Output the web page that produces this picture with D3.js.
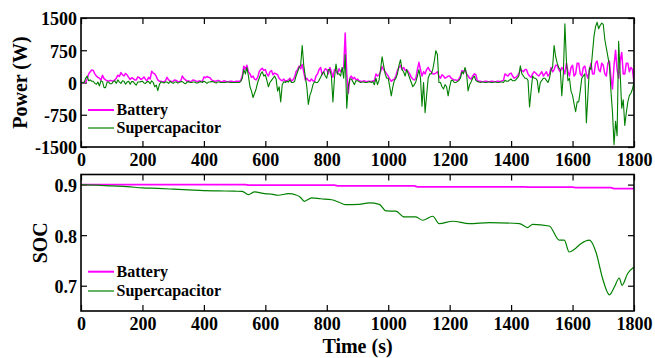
<!DOCTYPE html>
<html>
<head>
<meta charset="utf-8">
<script src="https://cdn.jsdelivr.net/npm/d3@7"></script>
<style>
  html, body { margin: 0; padding: 0; background: #fff; }
  svg { display: block; }
  text { font-family: "Liberation Serif", "Times New Roman", serif; font-weight: bold; fill: #000; }
</style>
</head>
<body>
<svg id="chart" width="655" height="358"></svg>
<script>
// Power split over the drive cycle, sampled every 5 s (W); one row = 100 s
const powerStep = 5;
const batteryPower = [
  0, 0, 0, 10, 80, 200, 250, 290, 280, 200, 150, 120, 100, 60, 170, 90, 60, 40, 30, 50,
  40, 30, 60, 100, 170, 140, 230, 180, 150, 210, 180, 120, 70, 110, 90, 60, 60, 130, 110, 70,
  90, 130, 70, 40, 120, 80, 260, 220, 200, 140, 60, 30, 30, 20, 20, 40, 120, 60, 40, 20,
  30, 60, 50, 20, 20, 40, 150, 90, 60, 30, 40, 20, 30, 60, 50, 30, 20, 40, 30, 20,
  130, 110, 140, 120, 110, 60, 40, 30, 30, 50, 40, 20, 20, 40, 30, 20, 20, 30, 30, 20,
  20, 30, 30, 20, 50, 150, 380, 300, 400, 250, 200, 120, 150, 80, 60, 120, 250, 300, 330, 280,
  300, 200, 150, 250, 280, 180, 220, 200, 180, 100, 60, 40, 80, 30, 40, 60, 100, 30, 60, 120,
  250, 300, 380, 320, 420, 250, 60, 100, 50, 30, 80, 40, 30, 150, 200, 300, 350, 180, 250, 320,
  300, 200, 350, 250, 120, 300, 280, 200, 320, 250, 300, 350, 1150, 200, -250, 100, 150, 80, 120, 60,
  80, 40, 30, 20, 40, 30, 20, 30, 30, 20, 40, 30, 200, 150, 180, 250, 370, 300, 250, 200,
  150, 80, 30, 60, 80, 150, 280, 350, 400, 300, 350, 280, 300, 250, 200, 120, 80, 60, 100, 300,
  470, 300, 150, 250, 200, 300, 350, 280, 250, 200, 200, 220, 250, 150, 100, 180, 150, 100, 120, 150,
  150, 100, 80, 60, 60, 40, 80, 150, 280, 250, 300, 200, 150, 100, 80, 150, 200, 180, 40, 30,
  30, 20, 20, 30, 30, 20, 20, 30, 30, 20, 20, 30, 30, 20, 40, 50, 200, 170, 150, 200,
  220, 150, 100, 120, 150, 200, 300, 280, 250, 300, 300, 200, 150, 120, 200, 250, 220, 180, 150, 200,
  250, 150, 200, 250, 150, 200, 350, 250, 300, 400, 400, 300, 250, 350, 300, 200, 450, 250, 150, 350,
  400, 150, 200, 450, 450, 200, 150, 350, 380, 200, 100, 300, 450, 200, 200, 450, 500, 300, 250, 450,
  400, 200, 150, 450, 500, 100, -150, 400, 750, 300, 100, 500, 700, 200, 200, 450, 450, 250, 350, 300,
  0
];
const supercapPower = [
  0, 0, 0, 100, 150, 40, 60, 30, 30, -20, -40, 10, -80, 40, 20, -120, -120, 10, 10, -30,
  -30, 20, 40, -20, 60, 10, -20, 40, 30, -40, 10, 30, -40, 20, 20, -30, -60, 10, 10, 20,
  30, -10, -20, 20, 20, -30, 40, 0, -100, -60, -190, -50, 20, 0, -10, 10, 10, -20, 30, 0,
  -20, 10, 10, -10, 0, 20, 20, -10, -30, 10, 20, 0, 0, 10, 10, -10, -10, 10, 20, 0,
  30, 10, -20, 10, 10, 20, 20, 0, -10, 10, 10, 0, 0, 0, 0, 10, 10, 0, 0, 0,
  0, 0, 0, 0, 20, 100, 300, 200, 350, 150, -100, -200, -350, -250, -150, 0, 100, 200, 250, 150,
  180, 50, -100, 0, 50, 100, 150, 80, -200, -100, -450, -50, 20, 0, 30, 10, 60, 0, 0, 20,
  150, 250, 350, 400, 860, 400, 150, -100, -510, -300, -200, -50, 20, 0, 0, 50, 120, 200, 250, 150,
  100, 300, 300, 150, -450, 100, 430, 200, 200, 150, 350, 100, 650, -600, -100, 80, 80, 20, -50, 40,
  40, 20, 0, 10, 10, 0, 0, 10, 20, 0, 20, -50, 100, -50, 50, 300, 600, 400, 200, 100,
  100, -100, -310, -100, 50, 100, 200, 400, 530, 300, 250, 150, 300, 200, 100, 0, -100, -50, 20, 150,
  300, 100, -550, 0, -700, -300, 100, 200, 200, 300, 500, 740, 650, 0, 0, -100, -150, -50, -100, -310,
  -100, 50, 50, 0, 0, 20, 50, 100, 250, 200, 350, 200, -195, -50, 20, 100, 150, 50, 20, 10,
  0, 10, 10, 0, 0, 10, 10, 0, 0, 10, 10, 0, 0, 10, 10, 0, 50, 30, 30, 60,
  80, 40, 40, 60, 100, 150, 390, 200, 150, 100, 100, 50, -570, -200, 150, 100, 100, 50, -235, 0,
  50, 100, 100, 50, 0, 100, 300, 350, 860, 600, 450, 350, 300, -310, 200, 1365, 500, 40, 100, -200,
  -300, -500, -680, -450, -450, -200, 100, 150, 200, -935, -300, 350, 300, 700, 1090, 1300, 1400, 1250, 1330, 1380,
  1350, 1000, 800, 600, 400, -200, -700, -1445, -900, -1240, 960, 200, -600, -400, -1000, -700, -450, -300, -250, -150,
  0
];

// State of charge
const socTime = [
  0, 50, 100, 150, 200, 250, 300, 350, 400, 450,
  500, 525, 545, 565, 598, 620, 642, 675, 700, 713,
  727, 751, 780, 816, 840, 860, 905, 938, 971, 993,
  1025, 1052, 1090, 1112, 1145, 1166, 1210, 1264, 1329, 1427,
  1454, 1470, 1524, 1557, 1573, 1589, 1606, 1627, 1655, 1676,
  1698, 1720, 1736, 1752, 1761, 1779, 1800
];
const supercapSoc = [
  0.900, 0.899, 0.8974, 0.896, 0.8935, 0.8925, 0.891, 0.8895, 0.888, 0.8875,
  0.887, 0.8865, 0.880, 0.8855, 0.882, 0.881, 0.879, 0.882, 0.8795, 0.8756,
  0.867, 0.8737, 0.872, 0.870, 0.865, 0.8604, 0.861, 0.8637, 0.861, 0.848,
  0.8475, 0.836, 0.836, 0.8295, 0.8374, 0.8228, 0.8275, 0.8228, 0.8248, 0.8228,
  0.815, 0.8215, 0.8182, 0.790, 0.790, 0.7667, 0.772, 0.783, 0.790, 0.7667,
  0.7139, 0.682, 0.6974, 0.7153, 0.7008, 0.7237, 0.737
];
const batterySocTime = [0, 535, 545, 825, 835, 1085, 1095, 1445, 1455, 1600, 1610, 1725, 1735, 1800];
const batterySoc = [0.900, 0.900, 0.899, 0.899, 0.8975, 0.8975, 0.8955, 0.8955, 0.895, 0.895, 0.894, 0.894, 0.892, 0.892];

const timeTicks = [0, 200, 400, 600, 800, 1000, 1200, 1400, 1600, 1800];
const powerTicks = [-1500, -750, 0, 750, 1500];
const socTicks = [0.7, 0.8, 0.9];
const seriesNames = ["Battery", "Supercapacitor"];

const colors = { battery: "#ff00ff", supercap: "#008000" };

const svg = d3.select("#chart");
const left = 81, right = 634;
const panels = {
  power: { top: 18, bottom: 147 },
  soc: { top: 174.5, bottom: 311 }
};

const x = d3.scaleLinear().domain([0, 1800]).range([left, right]);
const yPower = d3.scaleLinear().domain([-1500, 1500]).range([panels.power.bottom, panels.power.top]);
const ySoc = d3.scaleLinear().domain([0.65, 0.92]).range([panels.soc.bottom, panels.soc.top]);

const tickLen = 6;
const tickFont = 18;
const fmtPlain = d => String(d);
const fmtSoc = d3.format(".1f");

function drawPanel(id, p, y, yTicks, yFmt) {
  const g = svg.append("g");
  svg.append("clipPath").attr("id", id)
    .append("rect").attr("x", left).attr("y", p.top)
    .attr("width", right - left).attr("height", p.bottom - p.top);

  const styleAxis = a => {
    a.select(".domain").remove();
    a.selectAll(".tick line").attr("stroke", "#000").attr("stroke-width", 1.2);
  };
  // bottom + left carry labels, top + right carry ticks only
  g.append("g").attr("transform", `translate(0,${p.bottom})`)
    .call(d3.axisBottom(x).tickValues(timeTicks).tickFormat(fmtPlain)
      .tickSizeInner(-tickLen).tickSizeOuter(0).tickPadding(6.5))
    .call(styleAxis)
    .selectAll("text").attr("font-size", tickFont).attr("font-family", null);
  g.append("g").attr("transform", `translate(0,${p.top})`)
    .call(d3.axisTop(x).tickValues(timeTicks).tickFormat("")
      .tickSizeInner(-tickLen).tickSizeOuter(0))
    .call(styleAxis);
  g.append("g").attr("transform", `translate(${left},0)`)
    .call(d3.axisLeft(y).tickValues(yTicks).tickFormat(yFmt)
      .tickSizeInner(-tickLen).tickSizeOuter(0).tickPadding(4))
    .call(styleAxis)
    .selectAll("text").attr("font-size", tickFont).attr("font-family", null).attr("dy", "0.38em");
  g.append("g").attr("transform", `translate(${right},0)`)
    .call(d3.axisRight(y).tickValues(yTicks).tickFormat("")
      .tickSizeInner(-tickLen).tickSizeOuter(0))
    .call(styleAxis);
  return g;
}

function drawFrame(p) {
  svg.append("rect").attr("x", left).attr("y", p.top)
    .attr("width", right - left).attr("height", p.bottom - p.top)
    .attr("fill", "none").attr("stroke", "#000").attr("stroke-width", 1.6);
}

function drawLegend(y1, y2) {
  const items = [
    { name: seriesNames[0], color: colors.battery, w: 2, y: y1 },
    { name: seriesNames[1], color: colors.supercap, w: 1.2, y: y2 }
  ];
  const lg = svg.append("g");
  items.forEach(it => {
    lg.append("line").attr("x1", 88).attr("x2", 114)
      .attr("y1", it.y).attr("y2", it.y)
      .attr("stroke", it.color).attr("stroke-width", it.w);
    lg.append("text").attr("x", 116.5).attr("y", it.y + 5)
      .attr("font-size", 16).text(it.name);
  });
}

// ---- Power panel ----
drawPanel("clipPower", panels.power, yPower, powerTicks, fmtPlain);
const lineP = d3.line().x((d, i) => x(i * powerStep)).y(d => yPower(d));
const pg = svg.append("g").attr("clip-path", "url(#clipPower)");
pg.append("path").datum(batteryPower).attr("d", lineP)
  .attr("fill", "none").attr("stroke", colors.battery).attr("stroke-width", 1.5)
  .attr("stroke-linejoin", "round");
pg.append("path").datum(supercapPower).attr("d", lineP)
  .attr("fill", "none").attr("stroke", colors.supercap).attr("stroke-width", 1.1)
  .attr("stroke-linejoin", "round");
drawFrame(panels.power);
drawLegend(110, 128);

svg.append("text")
  .attr("transform", `translate(26.5,${(panels.power.top + panels.power.bottom) / 2}) rotate(-90)`)
  .attr("text-anchor", "middle").attr("font-size", 20).text("Power (W)");

// ---- SOC panel ----
drawPanel("clipSoc", panels.soc, ySoc, socTicks, fmtSoc);
const sg = svg.append("g").attr("clip-path", "url(#clipSoc)");
sg.append("path").datum(batterySocTime.map((t, i) => [t, batterySoc[i]]))
  .attr("d", d3.line().x(d => x(d[0])).y(d => ySoc(d[1])))
  .attr("fill", "none").attr("stroke", colors.battery).attr("stroke-width", 1.8);
sg.append("path").datum(socTime.map((t, i) => [t, supercapSoc[i]]))
  .attr("d", d3.line().curve(d3.curveMonotoneX).x(d => x(d[0])).y(d => ySoc(d[1])))
  .attr("fill", "none").attr("stroke", colors.supercap).attr("stroke-width", 1.2);
drawFrame(panels.soc);
drawLegend(271.7, 291);

svg.append("text")
  .attr("transform", `translate(46.5,${(panels.soc.top + panels.soc.bottom) / 2}) rotate(-90)`)
  .attr("text-anchor", "middle").attr("font-size", 20).text("SOC");

svg.append("text").attr("x", (left + right) / 2).attr("y", 353)
  .attr("text-anchor", "middle").attr("font-size", 20).text("Time (s)");
</script>
</body>
</html>
